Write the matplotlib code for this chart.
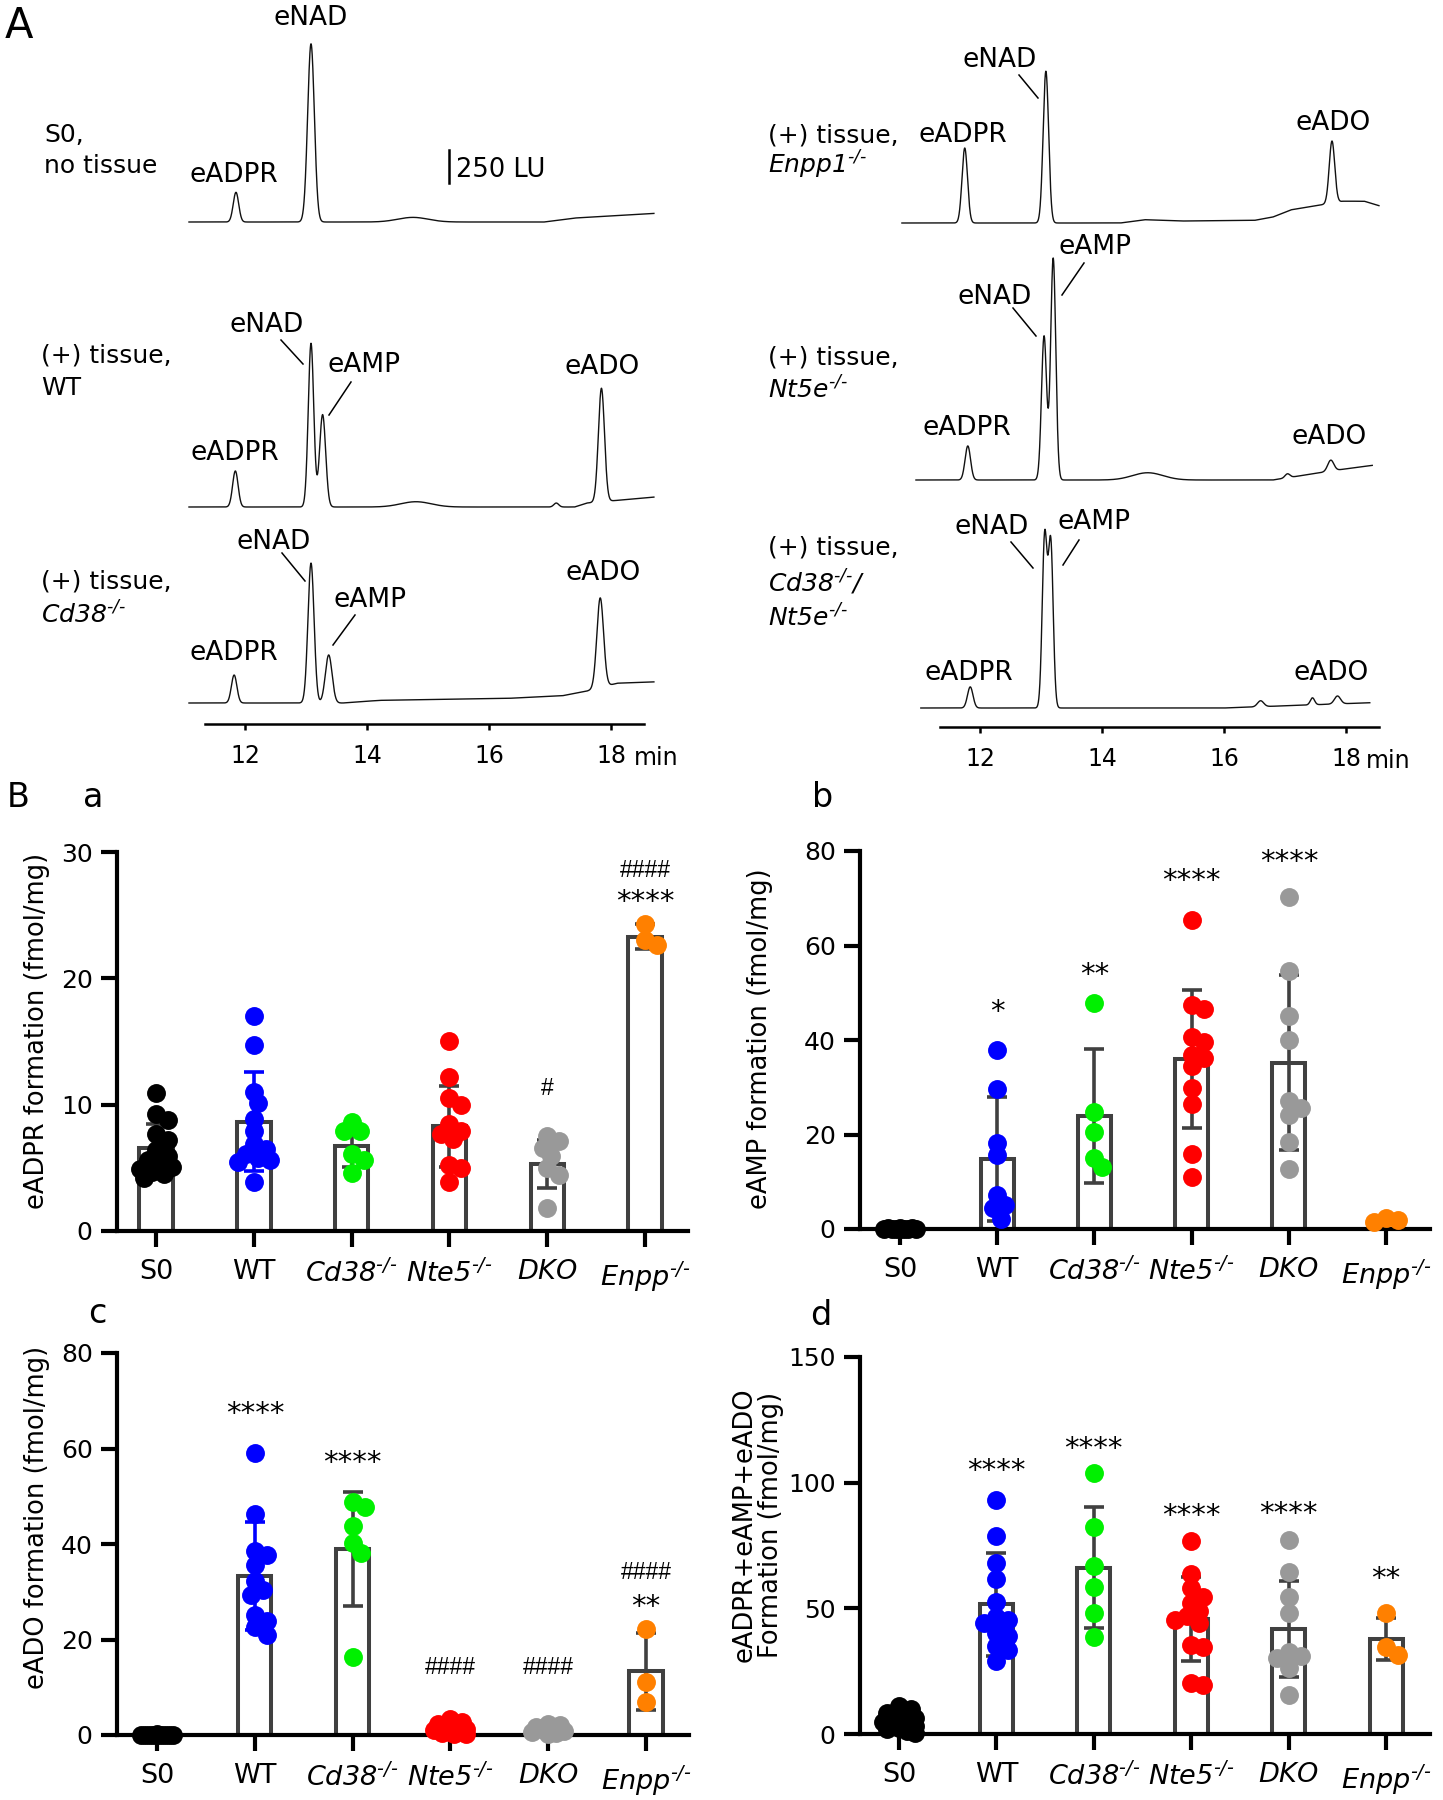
import numpy as np
import matplotlib
matplotlib.use("Agg")
import matplotlib.pyplot as plt

plt.rcParams['font.family'] = ['DejaVu Sans']
# gene names are set in italics, so the math font is the italic face
plt.rcParams['mathtext.fontset'] = 'custom'
plt.rcParams['mathtext.rm'] = 'DejaVu Sans:italic'
plt.rcParams['mathtext.it'] = 'DejaVu Sans:italic'

W, H = 1443, 1800
LU_PX = 33 / 250.0   # scale bar: 250 LU is about 33 px high

# ---------------- panel A: chromatogram peaks (time min, height LU, sigma min)
s0_peaks = [(11.85, 225, 0.045), (13.08, 1350, 0.055), (14.75, 35, 0.25)]
s0_base = [(11.0, 0), (16.9, 0), (17.4, 30), (18.7, 65)]

wt_peaks = [(11.84, 273, 0.045), (13.08, 1240, 0.045), (13.27, 700, 0.05),
            (14.8, 40, 0.25), (17.1, 30, 0.04), (17.84, 860, 0.05)]
wt_base = [(11.0, 0), (17.4, 0), (17.6, 30), (18.7, 75)]

cd38_peaks = [(11.82, 212, 0.045), (13.08, 1060, 0.05), (13.37, 364, 0.055),
              (17.82, 680, 0.055)]
cd38_base = [(11.0, 0), (13.6, 0), (14.2, 20), (16.3, 35), (17.2, 55),
             (17.6, 90), (18.1, 150), (18.7, 160)]

enpp_peaks = [(11.75, 568, 0.045), (13.08, 1150, 0.045), (17.77, 470, 0.045)]
enpp_base = [(10.7, 0), (14.3, 0), (14.7, 25), (15.3, 15), (16.5, 20), (16.8, 45),
             (17.1, 100), (17.5, 130), (17.95, 165), (18.3, 165), (18.55, 130)]

nt5e_peaks = [(11.8, 258, 0.045), (13.05, 1090, 0.042), (13.2, 1680, 0.042),
              (14.75, 55, 0.25), (17.04, 30, 0.04), (17.75, 83, 0.05)]
nt5e_base = [(10.9, 0), (16.8, 0), (17.5, 50), (18.0, 85), (18.45, 112)]

dko_peaks = [(11.84, 160, 0.045), (13.06, 1290, 0.04), (13.16, 1240, 0.04),
             (16.6, 45, 0.05), (17.45, 53, 0.035), (17.86, 60, 0.05)]
dko_base = [(11.0, 0), (16.0, 0), (18.4, 40)]

# ---------------- panel B data
group_labels = ['S0', 'WT', r'$\mathrm{Cd38}^{\text{-/-}}$', r'$\mathrm{Nte5}^{\text{-/-}}$',
                r'$\mathrm{DKO}$', r'$\mathrm{Enpp}^{\text{-/-}}$']
group_colors = ['#000000', '#0000FF', '#00F000', '#FF0000', '#999999', '#FF8000']

adpr_pts = [
    [10.9, 9.3, 8.8, 7.7, 7.2, 6.4, 5.9, 5.6, 5.3, 5.1, 4.9, 4.7, 4.5, 4.2],
    [17.0, 14.7, 11.0, 10.1, 8.9, 7.9, 6.9, 6.5, 6.1, 5.8, 5.6, 5.5, 3.9],
    [8.65, 7.9, 7.9, 6.1, 5.6, 4.6],
    [15.05, 12.2, 10.5, 10.0, 8.5, 7.9, 7.7, 7.3, 5.2, 5.0, 3.9],
    [7.5, 7.1, 6.6, 5.9, 5.0, 4.4, 1.8],
    [24.3, 23.0, 22.6],
]
adpr_mean = [6.6, 8.65, 6.7, 8.3, 5.3, 23.3]
adpr_sd = [1.9, 3.9, 1.6, 3.2, 1.9, 1.0]

amp_pts = [
    [0.3, 0.2, 0.2, 0.1, 0.1, 0.1, 0.0, 0.0, 0.0, 0.0],
    [37.9, 29.6, 18.2, 15.6, 7.3, 5.1, 4.4, 2.2],
    [47.9, 24.7, 20.6, 15.1, 13.1],
    [65.4, 47.4, 46.6, 40.7, 39.6, 36.9, 36.2, 34.4, 29.8, 26.5, 15.9, 11.1],
    [70.3, 54.6, 45.1, 40.0, 27.0, 25.6, 24.2, 18.5, 12.8],
    [2.3, 2.0, 1.4],
]
amp_mean = [0.1, 14.8, 24.0, 35.9, 35.2, 1.9]
amp_sd = [0.1, 13.2, 14.2, 14.6, 18.5, 0.5]

ado_pts = [
    [0.2, 0.1, 0.1, 0.0, 0.0, 0.0, 0.0, 0.0, 0.0, 0.0],
    [59.0, 46.3, 38.6, 37.7, 35.6, 32.3, 30.4, 29.4, 25.2, 23.9, 22.6, 21.0],
    [48.9, 47.7, 43.7, 40.2, 38.1, 16.4],
    [3.3, 2.8, 2.3, 2.0, 1.6, 1.3, 1.0, 0.8, 0.6, 0.4, 0.3, 0.2],
    [2.3, 2.0, 1.6, 1.3, 1.0, 0.8, 0.6, 0.5, 0.3],
    [22.1, 11.2, 6.9],
]
ado_mean = [0.1, 33.3, 39.0, 1.4, 1.1, 13.3]
ado_sd = [0.1, 11.3, 11.9, 1.0, 0.7, 8.0]

sum_pts = [
    [11.0, 9.8, 8.5, 7.5, 6.5, 5.5, 4.8, 4.0, 3.2, 2.5, 1.8, 1.2, 0.5],
    [93.1, 78.9, 68.2, 61.6, 52.7, 46.7, 45.4, 44.1, 40.1, 38.8, 35.1, 33.5, 28.9],
    [103.7, 82.2, 66.9, 58.3, 48.1, 38.4],
    [76.9, 63.7, 58.0, 54.7, 52.3, 48.8, 47.1, 45.5, 44.1, 35.5, 34.8, 20.3, 19.6],
    [77.1, 64.6, 54.4, 48.3, 32.8, 31.1, 30.2, 26.2, 15.6],
    [48.3, 34.8, 31.5],
]
sum_mean = [5.2, 51.6, 66.2, 45.8, 41.8, 37.8]
sum_sd = [3.4, 20.6, 24.1, 16.7, 19.1, 8.4]

# significance marks: (group, text, level)
adpr_marks = [(5, '****', 26.8), (5, '####', 28.7), (4, '#', 11.4)]
amp_marks = [(1, '*', 47.8), (2, '**', 55.7), (3, '****', 75.6), (3, '##', 80.2),
             (4, '****', 79.6), (4, '##', 84.2)]
ado_marks = [(1, '****', 69.1), (2, '****', 58.8), (3, '####', 14.4),
             (4, '####', 14.4), (5, '####', 34.3), (5, '**', 28.7)]
sum_marks = [(1, '****', 108.2), (2, '****', 117.0), (3, '****', 90.3),
             (4, '****', 91.1), (5, '**', 65.3)]

fig = plt.figure(figsize=(W / 100, H / 100), dpi=100)


def px_axes(x0, y0, x1, y1):
    return fig.add_axes([x0 / W, 1 - y1 / H, (x1 - x0) / W, (y1 - y0) / H])


def draw_trace(ax, t0, t1, base_px, peaks, knots):
    t = np.linspace(t0, t1, 3000)
    kt, kv = zip(*knots)
    sig = np.interp(t, kt, kv)
    for rt, h, s in peaks:
        sig = sig + h * np.exp(-0.5 * ((t - rt) / s) ** 2)
    ax.plot(t, base_px - sig * LU_PX, color='#111111', lw=1.0)


def trace_axes(x0, x1, y_axis, tmin, tmax):
    ax = px_axes(x0, 0, x1, y_axis)
    ax.set_xlim(tmin, tmax)
    ax.set_ylim(y_axis, 0)
    ax.set_facecolor('none')
    for s in ['top', 'right', 'left']:
        ax.spines[s].set_visible(False)
    ax.spines['bottom'].set_linewidth(1.8)
    ax.spines['bottom'].set_bounds(11.34, 18.54)
    ax.set_yticks([])
    ax.set_xticks([12, 14, 16, 18])
    ax.set_xticklabels(['12', '14', '16', '18'])
    ax.tick_params(axis='x', length=4.5, width=1.8, labelsize=17, pad=10)
    return ax


# left column: 12 min at x=245 px, 61 px/min
axL = trace_axes(178, 660, 724, 10.9, 18.8)
draw_trace(axL, 11.08, 18.7, 222, s0_peaks, s0_base)
draw_trace(axL, 11.08, 18.7, 507, wt_peaks, wt_base)
draw_trace(axL, 11.08, 18.7, 703, cd38_peaks, cd38_base)
axL.plot([15.34, 15.34], [183, 183 - 250 * LU_PX], color='k', lw=1.8)

# right column: 12 min at x=980 px
axR = trace_axes(894.6, 1394.8, 727, 10.6, 18.8)
draw_trace(axR, 10.72, 18.54, 223, enpp_peaks, enpp_base)
draw_trace(axR, 10.95, 18.43, 480, nt5e_peaks, nt5e_base)
draw_trace(axR, 11.03, 18.39, 708, dko_peaks, dko_base)


def swarm_x(ax, i, vals, d_px=19.0):
    # spread points sideways in pixel space, GraphPad style
    pts = ax.transData.transform([(i, v) for v in vals])
    order = np.argsort(vals)[::-1]
    cands = [0.0]
    for k in range(1, 5):
        cands += [k * 4.0, -k * 4.0]
    placed = []
    out = np.zeros(len(vals))
    for j in order:
        y = pts[j, 1]
        best, bestd = 0.0, -1.0
        for c in cands:
            x = pts[j, 0] + c
            md = min([np.hypot(x - px, y - py) for px, py in placed], default=1e9)
            if md >= 0.62 * d_px:
                best = c
                break
            if md > bestd:
                best, bestd = c, md
        placed.append((pts[j, 0] + best, y))
        out[j] = ax.transData.inverted().transform((pts[j, 0] + best, y))[0]
    return out


def bar_panel(box, xlim, pts, mean, sd, ymax, yticks, marks, err_cols):
    ax = px_axes(*box)
    ax.set_facecolor('none')
    ax.set_xlim(*xlim)
    ax.set_ylim(0, ymax)
    x = np.arange(len(group_labels))
    ax.bar(x, mean, width=0.34, color='white', edgecolor='#404040',
           linewidth=2.9, zorder=1)
    for i in x:
        ax.errorbar(i, mean[i], yerr=sd[i], color=err_cols[i], elinewidth=2.6,
                    capsize=7, capthick=2.6, zorder=2)
    for i in x:
        xs = swarm_x(ax, i, pts[i])
        ax.scatter(xs, pts[i], s=185, color=group_colors[i], linewidths=0,
                   zorder=3, clip_on=False)
    for i, txt, lvl in marks:
        if '*' in txt:
            ax.annotate(txt, (i, lvl), xytext=(0, -0.59 * 21), textcoords='offset points',
                        ha='center', va='baseline', fontsize=21)
        else:
            ax.annotate(txt, (i, lvl), xytext=(0, -0.36 * 16.5), textcoords='offset points',
                        ha='center', va='baseline', fontsize=16.5,
                        family=['Liberation Sans', 'DejaVu Sans'])
    for s in ['top', 'right']:
        ax.spines[s].set_visible(False)
    for s in ['left', 'bottom']:
        ax.spines[s].set_linewidth(3)
    ax.set_xticks(x)
    ax.set_xticklabels(group_labels)
    ax.set_yticks(yticks)
    ax.tick_params(axis='both', length=11.5, width=3)
    ax.tick_params(axis='y', labelsize=18, pad=6)
    ax.tick_params(axis='x', labelsize=19.5, pad=9)
    return ax


dark = '#404040'
bar_panel((117, 852, 688, 1231), (-0.40, 5.44), adpr_pts, adpr_mean, adpr_sd,
          30, [0, 10, 20, 30], adpr_marks, [dark, '#0000FF', dark, dark, dark, dark])
bar_panel((860, 851, 1430, 1229), (-0.41, 5.45), amp_pts, amp_mean, amp_sd,
          80, [0, 20, 40, 60, 80], amp_marks, [dark] * 6)
bar_panel((117, 1353, 689, 1735), (-0.41, 5.44), ado_pts, ado_mean, ado_sd,
          80, [0, 20, 40, 60, 80], ado_marks, [dark, '#0000FF', dark, dark, dark, dark])
bar_panel((860, 1357, 1430, 1734), (-0.40, 5.45), sum_pts, sum_mean, sum_sd,
          150, [0, 50, 100, 150], sum_marks, [dark] * 6)

# ---------------- overlay for labels (figure pixel coordinates)
ov = px_axes(0, 0, W, H)
ov.set_xlim(0, W)
ov.set_ylim(H, 0)
ov.axis('off')


def lab(x, y, s, size=19, ha='center', **kw):
    ov.text(x, y, s, fontsize=size, ha=ha, va='center', **kw)


def lead(x1, y1, x2, y2):
    ov.plot([x1, x2], [y1, y2], color='k', lw=1.1)


# panel letters
ov.text(5, 38, 'A', fontsize=30, va='baseline')
ov.text(7, 807, 'B', fontsize=24, va='baseline')
ov.text(83, 807, 'a', fontsize=24, va='baseline')
ov.text(812, 807, 'b', fontsize=24, va='baseline')
ov.text(88, 1323, 'c', fontsize=24, va='baseline')
ov.text(810, 1325, 'd', fontsize=24, va='baseline')

# left column labels
lab(44, 135, 'S0,', 18, ha='left')
lab(44, 166, 'no tissue', 18, ha='left')
lab(234, 175, 'eADPR')
lab(311, 18, 'eNAD')
lab(456, 170, '250 LU', 18.5, ha='left')

lab(41, 355, '(+) tissue,', 18, ha='left')
lab(41, 388, 'WT', 18, ha='left')
lab(267, 325, 'eNAD')
lab(364, 365, 'eAMP')
lab(235, 453, 'eADPR')
lab(602, 367, 'eADO')
lead(281, 340, 303, 364)
lead(351, 382, 329, 415)

lab(41, 582, '(+) tissue,', 18, ha='left')
lab(41, 615, r'$\mathrm{Cd38}^{\text{-/-}}$', 18, ha='left')
lab(274, 542, 'eNAD')
lab(370, 600, 'eAMP')
lab(234, 653, 'eADPR')
lab(603, 573, 'eADO')
lead(282, 553, 305, 581)
lead(355, 615, 333, 645)

lab(656, 758, 'min', 17)

# right column labels
lab(768, 135, '(+) tissue,', 18, ha='left')
lab(768, 165, r'$\mathrm{Enpp1}^{\text{-/-}}$', 18, ha='left')
lab(963, 135, 'eADPR')
lab(1000, 60, 'eNAD')
lab(1333, 123, 'eADO')
lead(1019, 75, 1038, 98)

lab(768, 357, '(+) tissue,', 18, ha='left')
lab(768, 390, r'$\mathrm{Nt5e}^{\text{-/-}}$', 18, ha='left')
lab(1095, 247, 'eAMP')
lab(995, 297, 'eNAD')
lab(967, 428, 'eADPR')
lab(1329, 437, 'eADO')
lead(1084, 263, 1062, 295)
lead(1013, 308, 1036, 336)

lab(768, 548, '(+) tissue,', 18, ha='left')
lab(768, 583, r'$\mathrm{Cd38}^{\text{-/-}}\mathrm{/}$', 18, ha='left')
lab(768, 618, r'$\mathrm{Nt5e}^{\text{-/-}}$', 18, ha='left')
lab(992, 527, 'eNAD')
lab(1094, 522, 'eAMP')
lab(969, 673, 'eADPR')
lab(1331, 673, 'eADO')
lead(1011, 542, 1033, 568)
lead(1079, 540, 1063, 565)

lab(1388, 761, 'min', 17)

# y axis titles of panel B
lab(37, 1031, 'eADPR formation (fmol/mg)', 18.5, rotation=90)
lab(760, 1039, 'eAMP formation (fmol/mg)', 18.5, rotation=90)
lab(37, 1517, 'eADO formation (fmol/mg)', 18.5, rotation=90)
lab(758, 1525, 'eADPR+eAMP+eADO\nFormation (fmol/mg)', 18.5, rotation=90,
    multialignment='center', linespacing=1.0)

fig.savefig('out.png', dpi=100)
